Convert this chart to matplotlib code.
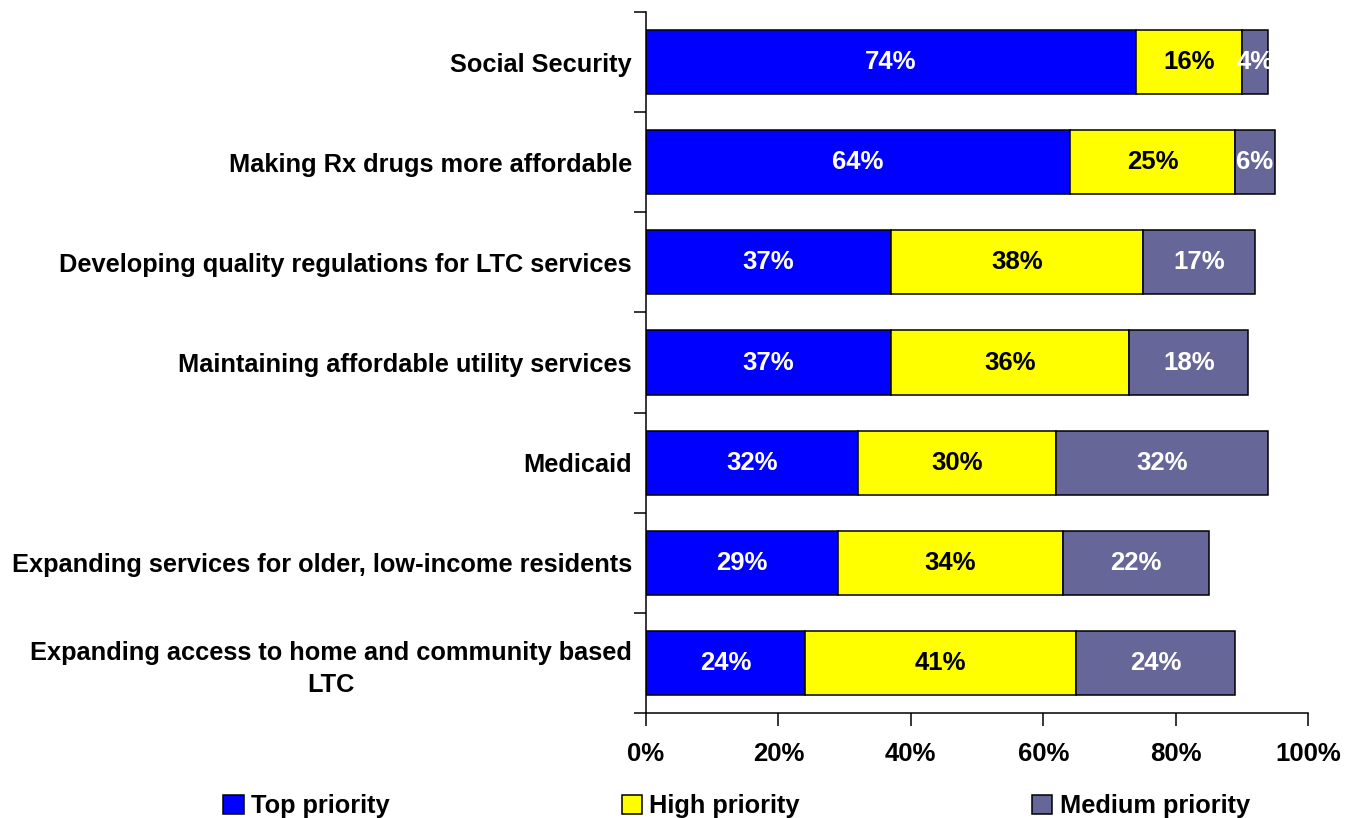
import matplotlib.pyplot as plt
import numpy as np

plt.rcParams['font.family'] = ['Liberation Sans', 'DejaVu Sans']
plt.rcParams['font.weight'] = 'bold'

# survey results, top row first
categories = [
    'Social Security',
    'Making Rx drugs more affordable',
    'Developing quality regulations for LTC services',
    'Maintaining affordable utility services',
    'Medicaid',
    'Expanding services for older, low-income residents',
    'Expanding access to home and community based\nLTC',
]
top_priority = [74, 64, 37, 37, 32, 29, 24]
high_priority = [16, 25, 38, 36, 30, 34, 41]
medium_priority = [4, 6, 17, 18, 32, 22, 24]

series = [
    ('Top priority', top_priority, '#0000FF', 'white'),
    ('High priority', high_priority, '#FFFF00', 'black'),
    ('Medium priority', medium_priority, '#666699', 'white'),
]

fig = plt.figure(figsize=(13.54, 8.18), dpi=100)
ax = fig.add_axes([646 / 1354, 1 - 713 / 818, 662 / 1354, 701 / 818])

y = np.arange(len(categories))
left = np.zeros(len(categories))
handles = []
for name, vals, color, tcolor in series:
    vals = np.array(vals, dtype=float)
    bars = ax.barh(y, vals, left=left, height=0.64, color=color,
                   edgecolor='black', linewidth=1.1, label=name)
    handles.append(bars)
    for yi, l, v in zip(y, left, vals):
        ax.text(l + v / 2, yi, f'{v:.0f}%', ha='center', va='center',
                color=tcolor, fontsize=18.5, fontweight='bold')
    left += vals

ax.set_xlim(0, 100)
ax.set_ylim(len(categories) - 0.5, -0.5)
ax.set_xticks(np.arange(0, 101, 20))
ax.set_xticklabels([f'{v}%' for v in range(0, 101, 20)])
ax.set_yticks(y)
ax.set_yticklabels(categories)
for lab in ax.get_yticklabels():
    lab.set_multialignment('center')
    lab.set_linespacing(1.4)
ax.set_yticks(np.arange(-0.5, len(categories)), minor=True)

ax.tick_params(axis='y', which='major', length=0, pad=10, labelsize=18.3)
ax.tick_params(axis='y', which='minor', length=9, width=1.1)
ax.tick_params(axis='x', length=9, width=1.1, pad=12, labelsize=18.5)

for s in ('top', 'right'):
    ax.spines[s].set_visible(False)
for s in ('left', 'bottom'):
    ax.spines[s].set_linewidth(1.1)

fig.legend(handles=handles, loc='lower left', ncol=3, mode='expand',
           bbox_to_anchor=(213 / 1354, -0.013, 1047 / 1354, 0.04),
           frameon=False, fontsize=18.3, handlelength=0.8, handleheight=0.8,
           handletextpad=0.3, borderaxespad=0)

fig.savefig('out.png', dpi=100)
